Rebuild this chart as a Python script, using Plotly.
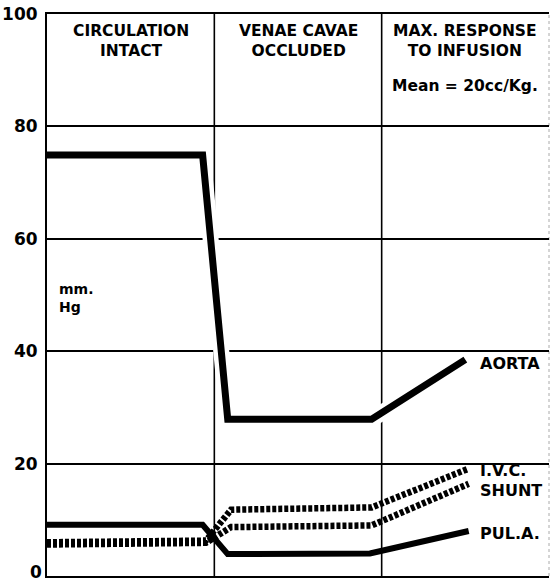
import plotly.graph_objects as go

# Data (x: 0-1 circulation intact, 1-2 venae cavae occluded, 2-3 max response)
aorta_x = [0.0, 0.93, 1.08, 1.94, 2.50]
aorta_y = [74.9, 74.9, 27.9, 27.9, 38.5]

pula_x = [0.0, 0.93, 1.08, 1.93, 2.52]
pula_y = [9.1, 9.1, 3.9, 4.0, 8.0]

ivc_x = [0.0, 0.95, 1.10, 1.94, 2.52]
ivc_y = [6.0, 6.3, 11.8, 12.2, 19.1]

shunt_x = [0.0, 0.95, 1.10, 1.94, 2.52]
shunt_y = [5.6, 5.9, 8.7, 9.0, 16.4]

y_ticks = [0, 20, 40, 60, 80, 100]
y_tick_labels = ["", "20", "40", "60", "80", "100"]  # "0" drawn separately so it stays inside the page
section_edges = [1, 2]

headers = [
    (0.5, "CIRCULATION<br>INTACT"),
    (1.5, "VENAE CAVAE<br>OCCLUDED"),
    (2.5, "MAX. RESPONSE<br>TO INFUSION"),
]

FONT = "DejaVu Sans, Liberation Sans, Arial, sans-serif"

fig = go.Figure()

# white halo under aorta (gaps in grid lines)
fig.add_trace(go.Scatter(x=aorta_x, y=aorta_y, mode="lines",
                         line=dict(color="white", width=16), hoverinfo="skip", showlegend=False))
fig.add_trace(go.Scatter(x=aorta_x, y=aorta_y, mode="lines", name="AORTA",
                         line=dict(color="black", width=7), showlegend=False))
fig.add_trace(go.Scatter(x=pula_x, y=pula_y, mode="lines", name="PUL. A.",
                         line=dict(color="black", width=6), showlegend=False))
fig.add_trace(go.Scatter(x=ivc_x, y=ivc_y, mode="lines", name="I.V.C.",
                         line=dict(color="black", width=6.5, dash="4px,2px"), showlegend=False))
fig.add_trace(go.Scatter(x=shunt_x, y=shunt_y, mode="lines", name="SHUNT",
                         line=dict(color="black", width=6.5, dash="4px,2px"), showlegend=False))

for xe in section_edges:
    fig.add_shape(type="line", x0=xe, x1=xe, y0=0, y1=100, xref="x", yref="y",
                  line=dict(color="black", width=1.6), layer="below")
# faint right border
fig.add_shape(type="line", x0=1, x1=1, y0=0, y1=1, xref="paper", yref="paper",
              line=dict(color="#aaaaaa", width=1, dash="dot"), layer="below")

for xc, txt in headers:
    fig.add_annotation(x=xc, y=98.9, xref="x", yref="y", text=txt, showarrow=False,
                       yanchor="top", align="center",
                       font=dict(family=FONT, size=15.5, color="black", weight="bold"))
fig.add_annotation(x=2.5, y=87.2, xref="x", yref="y", text="Mean = 20cc/Kg.", showarrow=False,
                   font=dict(family=FONT, size=15.5, color="black", weight="bold"))

fig.add_annotation(x=0.06, y=49.4, xref="x", yref="y", text="mm.<br>Hg", showarrow=False,
                   xanchor="left", align="left",
                   font=dict(family=FONT, size=14, color="black", weight="bold"))

labels = [(37.9, "AORTA"), (18.7, "I.V.C."), (15.2, "SHUNT"), (7.5, "PUL.A.")]
for yv, txt in labels:
    fig.add_annotation(x=2.575, y=yv, xref="x", yref="y", text=txt, showarrow=False,
                       xanchor="left",
                       font=dict(family=FONT, size=16, color="black", weight="bold"))

# zero tick label, kept fully inside the page
fig.add_annotation(x=0, y=y_ticks[0], xref="paper", yref="y", text="0", showarrow=False,
                   xanchor="right", yanchor="bottom", xshift=-4, yshift=-7,
                   borderpad=0,
                   font=dict(family=FONT, size=17, color="black", weight="bold"))

fig.update_layout(
    width=550, height=583,
    margin=dict(l=47, r=1, t=14, b=7),
    paper_bgcolor="white", plot_bgcolor="white",
    xaxis=dict(range=[0, 3], showgrid=False, zeroline=False, showticklabels=False,
               showline=True, mirror=True, linecolor="black", linewidth=2, ticks="",
               automargin=False),
    yaxis=dict(range=[0, 100], tickvals=y_ticks, ticktext=y_tick_labels,
               showgrid=True, gridcolor="black", gridwidth=1.6, zeroline=False,
               showline=True, linecolor="black", linewidth=2, ticks="", automargin=False,
               ticklabelstandoff=4, ticklabeloverflow="allow",
               tickfont=dict(family=FONT, size=17, color="black", weight="bold")),
)

fig.write_html("out.html", config={"displayModeBar": False},
               post_script="document.body.style.margin='0';")
